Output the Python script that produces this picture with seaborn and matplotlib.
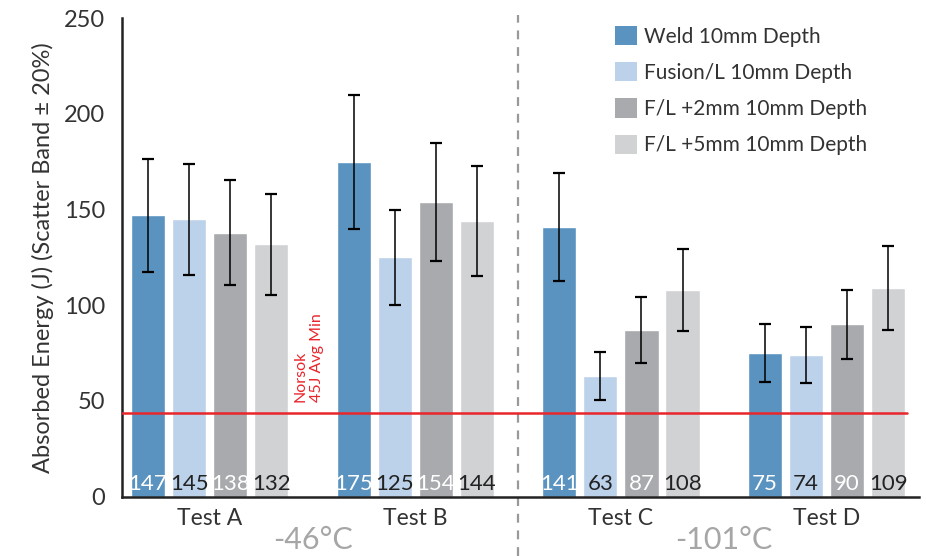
import numpy as np
import pandas as pd
import seaborn as sns
import matplotlib.pyplot as plt
from matplotlib.patches import Patch

tests = ["Test A", "Test B", "Test C", "Test D"]
series = [
    "Weld 10mm Depth",
    "Fusion/L 10mm Depth",
    "F/L +2mm 10mm Depth",
    "F/L +5mm 10mm Depth",
]
weld = [147, 175, 141, 75]
fusion = [145, 125, 63, 74]
fl_2mm = [138, 154, 87, 90]
fl_5mm = [132, 144, 108, 109]
scatter_band = 0.20  # +/- 20 %
norsok_min = 43.5
temps = ["-46°C", "-101°C"]

colors = ["#5a93c0", "#bcd2ea", "#a9aaad", "#d1d2d4"]
label_colors = ["white", "#222222", "white", "#222222"]

df = pd.DataFrame({
    "test": tests * 4,
    "series": np.repeat(series, 4),
    "energy": weld + fusion + fl_2mm + fl_5mm,
})

sns.set_style("white")
plt.rcParams["font.family"] = ["Lato", "DejaVu Sans"]

fig = plt.figure(figsize=(9.26, 5.56), dpi=100)
ax = fig.add_axes([0.1317, 0.1067, 0.9924 - 0.1317, 0.9673 - 0.1067])

sns.barplot(
    df, x="test", y="energy", hue="series", palette=colors,
    width=0.8, gap=0.17, errorbar=None, saturation=1, legend=False, ax=ax,
)

bar_conts = list(ax.containers)
for i, cont in enumerate(bar_conts):
    xs = [p.get_x() + p.get_width() / 2 for p in cont]
    hs = np.array([p.get_height() for p in cont])
    ax.errorbar(xs, hs, yerr=scatter_band * hs, fmt="none", ecolor="black",
                elinewidth=1.1, capsize=4, capthick=1.6, zorder=5)
    for x, h in zip(xs, hs):
        ax.text(x, 1.5, f"{int(h)}", ha="center", va="bottom",
                fontsize=16, color=label_colors[i], zorder=6)

ax.axhline(norsok_min, xmin=0, xmax=0.985, color="#e8262b", lw=1.8, zorder=4)
ax.text(0.483, 49.5, "Norsok\n45J Avg Min", rotation=90, ha="center",
        va="bottom", multialignment="left", fontsize=11.5, color="#e8262b",
        linespacing=1.2)

ax.axvline(1.5, ymin=-0.124, ymax=1.007, color="#999999", lw=1.6,
           ls=(0, (4, 3.5)), clip_on=False)

ax.set_xlim(-0.427, 3.45)
ax.set_ylim(0, 250)
ax.set_yticks([0, 50, 100, 150, 200, 250])
ax.set_xlabel("")
ax.set_ylabel("Absorbed Energy (J) (Scatter Band ± 20%)", fontsize=17,
              color="#333333", labelpad=7)
ax.tick_params(axis="y", length=8, width=1.6, color="#222222", pad=4,
               labelsize=17, labelcolor="#333333")
ax.tick_params(axis="x", length=0, pad=8, labelsize=16.5, labelcolor="#333333")
sns.despine(ax=ax)
for s in ["left", "bottom"]:
    ax.spines[s].set_linewidth(1.8)
    ax.spines[s].set_color("#222222")

for k, t in enumerate(temps):
    ax.text(0.5 + 2 * k, -0.09, t, transform=ax.get_xaxis_transform(),
            ha="center", va="center", fontsize=22, color="#a6a6a6")

handles = [Patch(facecolor=c, edgecolor="none") for c in colors]
fig.legend(handles, series, loc="upper left", bbox_to_anchor=(0.653, 0.972),
           frameon=False, fontsize=15, handlelength=1.05, handleheight=1.05,
           handletextpad=0.35, labelspacing=0.74, borderpad=0,
           labelcolor="#333333")

fig.savefig("out.png", dpi=100)
